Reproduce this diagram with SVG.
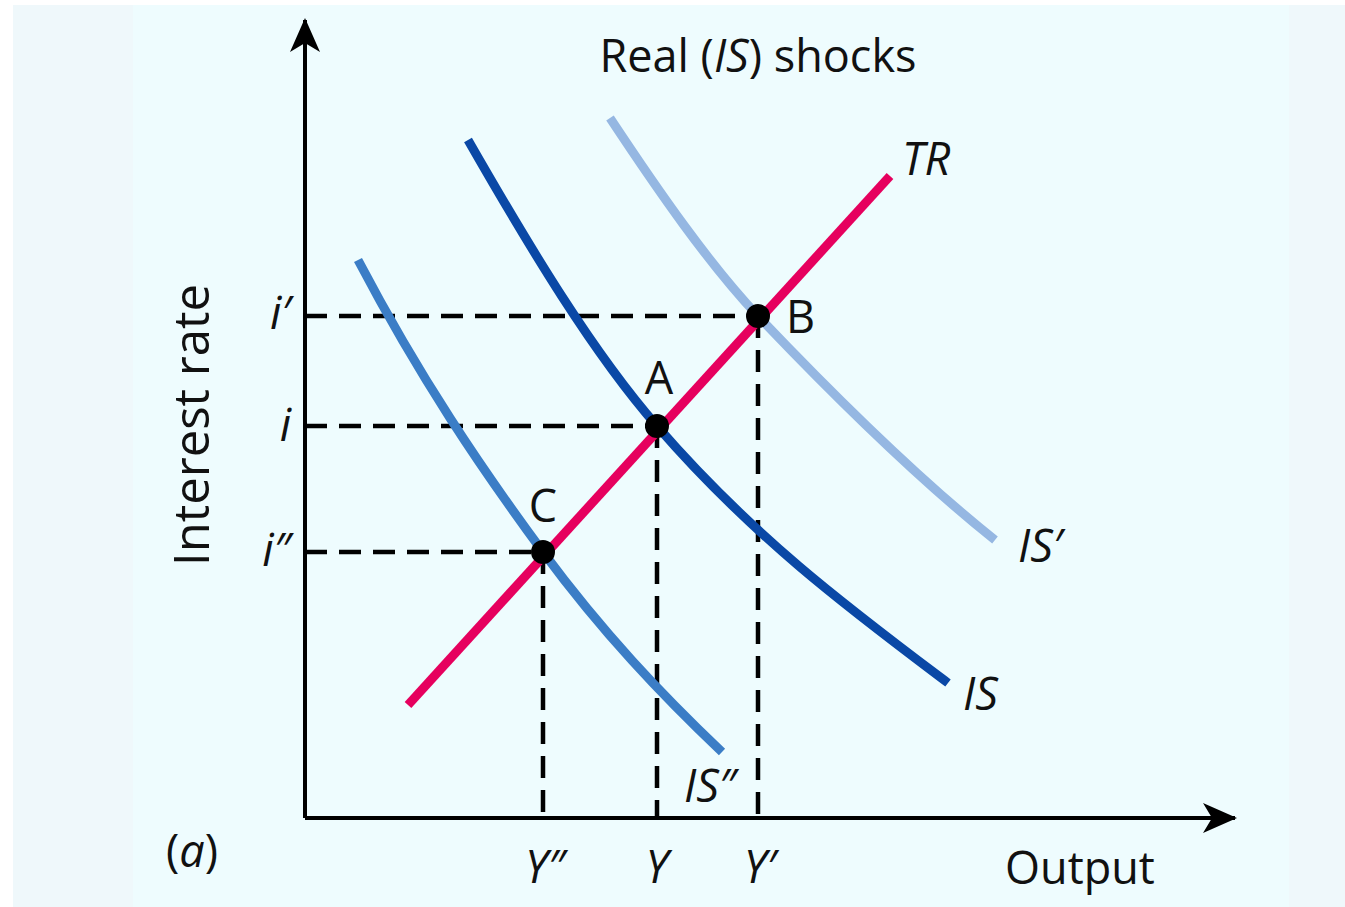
<svg xmlns="http://www.w3.org/2000/svg" width="1345" height="907" viewBox="0 0 1345 907">
<defs>
<style>
text{font-family:"Open Sans","Liberation Sans","DejaVu Sans",sans-serif;fill:#111}
.it{font-style:italic}
.lbl{font-size:45px}
.dash{stroke:#000;stroke-width:4.5;stroke-dasharray:22 12;fill:none}
.curve{fill:none;stroke-width:9;stroke-linecap:butt}
.axis{stroke:#000;stroke-width:4;fill:none}
</style>
<marker id="ahBig" viewBox="0 0 34 30" refX="32" refY="15" markerWidth="34" markerHeight="30" markerUnits="userSpaceOnUse" orient="auto">
<path d="M0,0 L34,15 L0,30 L9,15 Z" fill="#000"/>
</marker>
</defs>
<rect x="0" y="0" width="1345" height="907" fill="#ffffff"/>
<rect x="13" y="5" width="1332" height="902" fill="#eff8fb"/>
<rect x="133" y="5" width="1156" height="902" fill="#eefcfe"/>

<g id="connectors">
<line class="axis" x1="305" y1="818" x2="305" y2="20" marker-end="url(#ahBig)"/>
<line class="axis" x1="305" y1="818" x2="1235" y2="818" marker-end="url(#ahBig)"/>
<line class="dash" x1="305" y1="316" x2="758" y2="316"/>
<line class="dash" x1="305" y1="426" x2="657" y2="426"/>
<line class="dash" x1="305" y1="552" x2="543" y2="552"/>
<line class="dash" x1="758" y1="316" x2="758" y2="818"/>
<line class="dash" x1="657" y1="426" x2="657" y2="818"/>
<line class="dash" x1="543" y1="552" x2="543" y2="818"/>
</g>

<g id="curve-ISp">
<path class="curve" stroke="#95b7e2" d="M610,118 C659,192 709,264 758,316 C837,399 916,477 995,540"/>
<text class="lbl it" x="1018" y="562">IS′</text>
</g>
<g id="curve-IS">
<path class="curve" stroke="#0a48a6" d="M468,140 C531,250 594,354 657,426 C754,538 851,610 948,683"/>
<text class="lbl it" x="963" y="710">IS</text>
</g>
<g id="curve-ISpp">
<path class="curve" stroke="#3b7dc6" d="M358,260 C420,378 481,468 543,552 C603,633 662,695 722,752"/>
<text class="lbl it" x="684" y="802">IS″</text>
</g>
<g id="curve-TR">
<line class="curve" stroke="#e6005e" x1="408" y1="705" x2="890" y2="176"/>
<text class="lbl it" x="902" y="175">TR</text>
</g>

<g id="point-A">
<circle cx="657" cy="426" r="12" fill="#000"/>
<text class="lbl" x="659" y="394" text-anchor="middle">A</text>
</g>
<g id="point-B">
<circle cx="758" cy="316" r="12" fill="#000"/>
<text class="lbl" x="786" y="333">B</text>
</g>
<g id="point-C">
<circle cx="543" cy="552" r="12" fill="#000"/>
<text class="lbl" x="543" y="522" text-anchor="middle">C</text>
</g>

<g id="title">
<text class="lbl" x="758" y="72" text-anchor="middle">Real (<tspan class="it">IS</tspan>) shocks</text>
</g>
<g id="y-axis-labels">
<text transform="translate(209,425) rotate(-90)" text-anchor="middle" font-size="49">Interest rate</text>
<text class="lbl it" x="291" y="329" text-anchor="end">i′</text>
<text class="lbl it" x="291" y="441" text-anchor="end">i</text>
<text class="lbl it" x="291" y="566" text-anchor="end">i″</text>
</g>
<g id="x-axis-labels">
<text class="lbl it" x="545" y="883" text-anchor="middle">Y″</text>
<text class="lbl it" x="657" y="883" text-anchor="middle">Y</text>
<text class="lbl it" x="760" y="883" text-anchor="middle">Y′</text>
<text class="lbl" x="1080" y="884" text-anchor="middle">Output</text>
<text class="lbl" x="192" y="867" text-anchor="middle">(<tspan class="it">a</tspan>)</text>
</g>
</svg>
